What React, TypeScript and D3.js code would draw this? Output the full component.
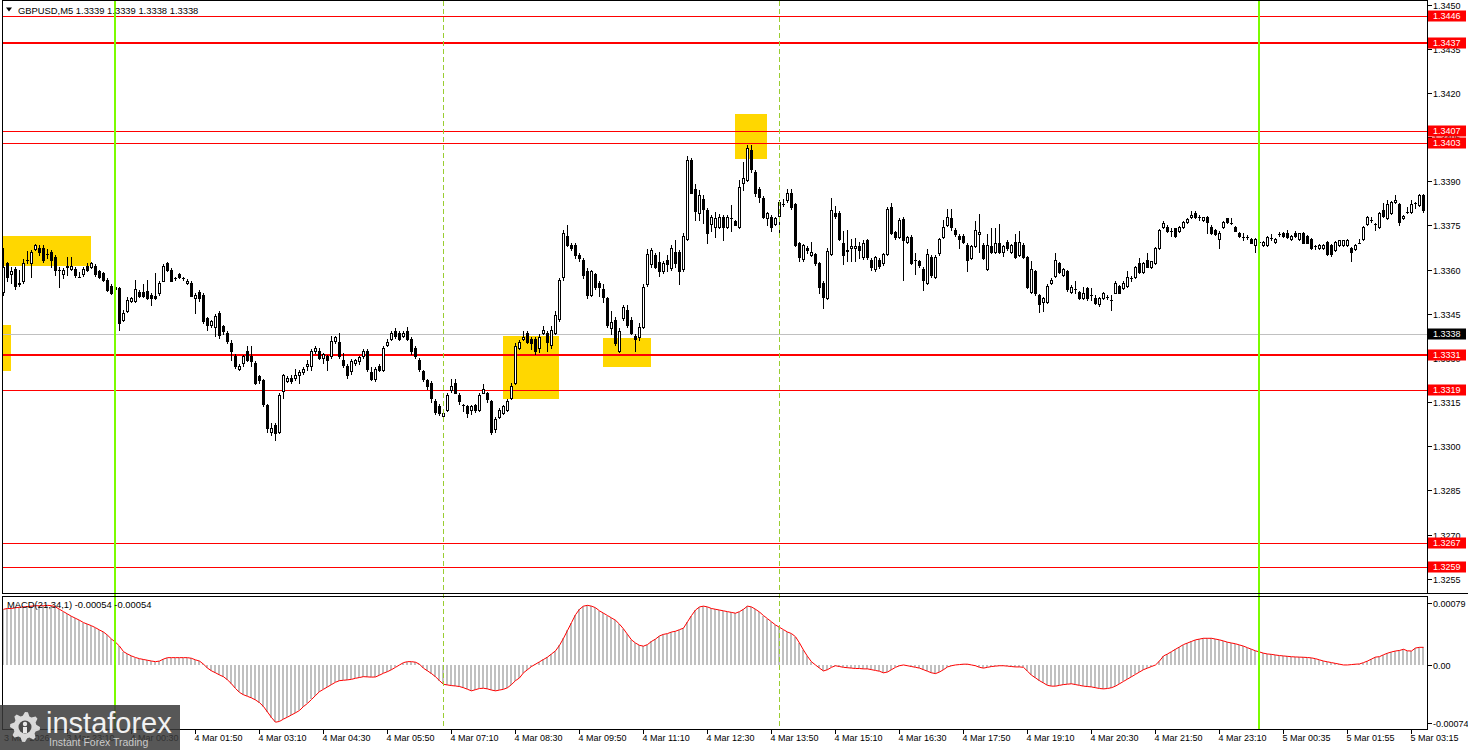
import React from 'react';
import * as d3 from 'd3';

// Prices are stored as pips above BASE (1.3300).
const BASE = 1.33;

const openPips = [
  52.5,62.2,58.4,60.2,55.3,56.3,63.2,62.2,67.1,67.3,
  67.3,65.3,66.1,64.4,59.9,58.5,61.0,60.1,60.1,57.6,
  58.4,61.3,61.0,61.3,59.6,58.8,56.5,54.5,53.3,53.7,
  42.9,46.1,49.4,49.4,52.5,52.5,52.8,51.4,51.2,52.2,
  56.3,62.2,59.9,57.1,58.5,57.1,55.4,55.6,50.3,52.5,
  51.4,43.4,41.1,40.4,45.2,40.7,38.4,35.2,30.7,26.3,
  28.2,32.2,30.7,28.2,23.7,22.5,14.0,5.0,7.3,5.0,
  18.6,22.3,23.1,23.1,24.1,25.1,27.1,27.1,32.2,32.2,
  30.1,30.5,30.5,35.6,35.3,29.3,27.4,25.4,28.2,28.8,
  30.5,32.4,25.1,22.8,27.3,26.0,34.4,36.3,39.3,38.4,
  37.3,39.3,36.4,33.3,29.3,25.4,22.5,21.4,15.2,13.8,
  10.3,12.3,19.1,21.4,17.4,14.0,13.5,12.3,14.0,12.3,
  18.2,18.2,15.4,5.8,10.1,11.4,12.3,16.3,21.4,33.3,
  36.4,38.4,36.4,36.4,33.3,38.4,38.4,34.4,38.4,43.1,
  57.6,71.5,68.4,68.4,65.0,63.3,59.6,51.4,58.4,55.6,
  53.3,50.3,40.1,42.9,32.5,43.5,46.3,42.9,37.5,37.2,
  40.6,55.2,62.0,65.0,62.5,59.4,63.3,60.5,66.1,66.0,
  60.1,70.3,97.3,87.4,79.2,84.0,80.2,75.5,74.4,74.4,
  78.0,74.6,77.5,76.5,74.4,89.3,90.4,100.7,93.3,87.4,
  84.2,77.5,78.0,75.5,78.2,82.3,83.5,86.2,82.3,69.2,
  63.5,67.3,65.0,65.2,62.2,55.4,50.3,65.2,79.4,79.4,
  69.2,66.2,67.3,67.5,68.1,64.2,70.1,63.3,60.1,63.3,
  62.2,65.2,81.4,72.8,71.2,77.2,69.5,71.2,63.2,62.8,
  60.1,55.4,64.4,57.6,65.6,71.2,75.2,77.5,73.5,71.5,
  71.5,68.4,63.9,68.1,72.2,68.4,60.1,68.0,66.1,69.2,
  66.0,69.5,66.1,69.5,65.0,68.4,64.2,52.5,59.6,51.4,
  49.1,49.1,55.4,57.9,62.2,58.2,59.6,52.5,53.5,52.5,
  50.3,53.7,51.4,50.3,48.2,50.3,50.6,49.7,52.2,54.5,
  53.7,54.5,57.0,57.4,62.4,59.3,63.3,61.0,62.2,67.3,
  74.6,74.6,73.0,74.0,73.2,74.6,76.3,77.8,79.4,77.8,
  76.9,77.8,74.6,73.5,70.3,74.6,77.4,76.0,74.4,72.6,
  71.0,71.0,70.3,68.4,69.5,68.4,68.4,70.6,69.5,72.1,
  72.6,72.6,70.3,72.6,70.3,72.6,71.4,70.3,68.0,67.3,
  67.3,69.5,68.4,66.7,68.4,68.4,68.4,67.3,67.0,69.2,
  70.3,75.5,76.7,75.5,74.6,80.2,77.4,79.1,83.1,82.3,
  77.4,79.7,79.7,82.5,82.0,85.4,
];

const highPips = [
  67.3,62.5,61.0,61.0,59.9,63.5,66.4,66.5,68.6,68.4,
  68.4,67.0,66.5,65.0,61.0,60.5,64.2,64.2,61.0,59.3,
  61.0,62.2,62.5,62.0,60.0,59.3,57.0,55.0,54.5,54.2,
  46.3,50.6,50.8,56.5,53.0,55.0,56.5,52.0,58.8,56.0,
  62.0,62.5,60.5,57.6,59.0,57.6,56.8,56.0,52.0,53.0,
  52.0,44.0,43.0,45.0,46.0,41.2,39.0,36.0,31.2,28.0,
  31.0,33.9,34.0,28.8,24.2,23.0,14.5,8.0,7.8,18.0,
  24.5,23.7,24.2,26.4,25.8,26.8,29.3,33.0,34.1,33.3,
  31.8,31.0,37.3,37.5,38.4,31.6,27.8,29.5,29.8,30.8,
  33.0,33.0,27.0,27.0,28.0,34.0,36.5,39.0,40.0,39.0,
  39.0,40.5,37.0,34.0,30.0,26.0,23.0,22.0,16.0,14.5,
  12.0,18.0,23.0,23.0,18.0,14.5,14.0,14.0,14.5,18.0,
  21.0,18.5,15.8,10.0,13.0,14.0,16.0,21.4,35.0,36.0,
  39.0,39.0,37.0,37.0,38.0,41.0,39.0,41.0,46.0,57.0,
  73.5,75.0,69.0,69.0,65.5,64.0,60.5,60.0,59.0,56.0,
  55.0,50.8,46.0,44.0,40.0,48.0,48.0,44.0,38.0,42.0,
  55.0,67.0,67.3,65.8,66.0,62.8,65.0,68.4,70.0,66.5,
  72.5,98.5,97.8,89.0,87.0,85.2,81.0,78.5,79.5,79.0,
  78.5,78.5,82.0,77.0,90.6,96.5,102.4,102.5,94.0,88.0,
  85.0,79.5,78.5,78.0,83.5,84.0,87.3,87.5,82.8,69.5,
  68.8,68.0,69.5,65.8,62.6,56.0,67.5,84.4,81.5,79.8,
  73.0,73.5,70.5,70.8,69.5,70.0,70.5,63.8,64.5,64.0,
  65.5,81.2,82.8,73.2,77.5,77.8,71.5,71.6,65.5,63.2,
  61.0,67.0,65.0,65.0,70.8,77.0,80.5,80.5,74.0,72.0,
  72.0,69.0,68.5,76.5,79.0,69.0,72.0,74.0,74.0,75.5,
  68.5,70.0,68.8,72.0,73.0,69.0,64.6,63.0,60.0,51.8,
  50.6,55.0,57.0,65.5,62.6,60.5,60.0,54.8,56.2,52.8,
  54.0,54.2,53.7,51.4,50.6,52.5,51.4,51.4,56.0,54.8,
  56.0,59.5,58.0,61.3,64.0,62.5,65.5,63.0,67.6,73.8,
  76.5,75.0,74.0,74.3,74.8,76.5,77.4,80.0,80.0,78.6,
  78.0,78.1,75.0,73.8,73.0,76.6,77.7,77.4,74.7,72.9,
  72.3,71.8,70.6,70.6,70.2,69.8,71.5,72.0,70.6,72.9,
  72.9,73.3,71.7,73.0,72.6,72.9,71.7,70.6,68.4,68.7,
  68.7,69.8,68.7,69.8,70.2,70.2,70.4,67.6,68.7,70.5,
  74.9,78.1,78.0,75.8,79.7,82.5,83.5,83.4,85.2,82.6,
  78.5,81.4,83.5,83.0,85.7,85.7,
];

const lowPips = [
  51.5,56.0,55.4,53.3,54.3,55.5,62.2,57.4,66.5,65.0,
  62.7,63.9,61.0,58.2,54.2,57.1,58.2,60.0,57.6,57.4,
  58.0,59.5,60.5,58.0,57.0,56.0,52.7,51.8,53.0,39.5,
  42.5,45.5,49.0,49.0,50.8,50.8,50.0,48.0,50.0,51.4,
  56.0,59.5,56.0,56.5,57.0,56.5,55.0,50.9,45.2,49.5,
  41.8,39.5,40.5,37.3,36.8,38.0,35.0,29.3,26.5,25.8,
  27.1,28.8,27.1,21.0,21.4,13.8,5.0,3.9,2.0,4.5,
  16.3,21.8,21.4,22.5,21.4,24.5,25.9,25.9,31.8,29.5,
  28.2,25.9,30.0,35.0,30.0,27.0,23.1,24.5,27.6,28.0,
  30.0,25.5,22.5,22.0,25.5,25.5,34.0,36.0,36.8,36.0,
  37.0,36.0,31.5,30.0,25.5,22.0,19.5,15.0,11.0,10.5,
  9.5,12.0,18.5,18.0,14.5,12.0,10.0,11.0,11.5,12.0,
  18.0,15.0,4.0,5.0,9.5,11.0,12.0,16.0,21.0,33.0,
  36.0,35.0,33.0,31.5,32.0,38.0,32.5,33.5,38.0,42.5,
  56.5,68.0,66.5,64.0,63.0,57.0,50.5,51.0,53.5,51.0,
  49.0,40.5,38.0,34.5,32.0,43.0,40.5,38.0,32.4,36.0,
  40.0,54.5,61.0,60.5,58.0,59.0,59.5,60.0,61.0,55.0,
  59.5,69.9,86.0,77.0,77.0,76.0,69.0,73.0,71.0,74.0,
  70.0,74.0,73.0,75.0,74.0,87.0,90.0,93.0,85.0,83.0,
  77.5,75.0,73.0,75.0,72.0,81.5,83.0,80.5,68.0,63.0,
  63.0,65.5,64.5,61.5,52.0,47.1,50.0,65.0,77.5,70.0,
  62.0,63.0,63.0,63.0,64.0,63.5,63.5,60.0,59.5,60.5,
  61.5,64.8,72.0,70.5,70.8,56.5,69.0,62.0,58.5,61.0,
  53.1,55.0,57.5,57.0,65.0,70.8,74.8,73.5,71.5,67.3,
  69.0,59.6,63.5,67.8,66.0,63.5,59.8,65.5,65.8,65.8,
  64.5,66.8,65.5,64.0,64.5,63.8,53.8,52.0,51.5,45.5,
  45.8,48.8,55.0,57.5,58.8,57.8,52.8,52.0,52.0,50.0,
  50.0,49.8,49.8,48.2,47.8,50.0,50.0,46.3,52.0,52.0,
  53.4,54.2,56.0,57.0,59.0,59.0,60.8,60.5,61.8,67.0,
  74.2,72.8,71.5,71.2,72.8,74.2,76.0,77.5,77.5,76.9,
  76.5,72.5,72.0,71.8,67.3,74.3,76.0,75.5,73.0,71.2,
  70.1,70.5,69.0,66.0,68.8,68.0,68.0,70.2,69.2,71.5,
  71.0,70.8,70.0,71.0,70.0,68.9,68.9,67.0,67.0,67.0,
  67.0,65.0,64.5,66.4,68.0,68.0,68.0,63.0,66.5,68.9,
  70.0,75.2,76.3,73.4,74.3,77.9,77.1,78.8,82.8,75.0,
  77.1,79.3,79.4,81.0,81.7,79.5,
];

const closePips = [
  61.0,57.4,59.6,54.6,55.0,62.2,63.4,66.1,68.3,65.9,
  63.3,65.2,63.1,59.9,59.8,59.9,61.1,61.3,58.2,57.6,
  60.1,59.9,62.2,58.4,57.4,56.5,53.1,52.2,54.2,42.0,
  45.2,49.7,50.3,53.3,51.2,51.2,50.3,50.2,50.2,55.4,
  61.3,59.9,56.3,57.1,57.6,57.0,56.3,51.2,51.4,50.3,
  42.4,41.2,42.4,44.3,37.8,39.0,35.6,32.2,27.1,27.4,
  30.5,29.3,28.8,21.4,22.5,14.3,6.1,6.1,4.4,17.4,
  24.1,23.1,22.3,24.2,25.3,26.3,28.0,32.4,33.4,30.1,
  31.3,29.3,35.6,37.0,30.5,27.6,24.2,29.1,29.3,30.2,
  32.2,26.2,22.8,26.2,26.0,33.3,35.5,38.4,37.3,36.4,
  38.4,36.4,32.2,30.5,26.2,22.8,20.3,16.3,11.8,11.4,
  11.4,17.4,20.3,18.2,15.2,14.1,11.4,13.5,12.3,17.4,
  19.4,16.0,5.0,9.2,12.3,13.5,15.2,20.3,34.1,35.5,
  37.2,35.5,35.0,32.2,37.2,39.5,35.5,39.5,44.6,56.5,
  72.4,68.4,67.3,65.0,63.9,58.2,51.4,59.6,54.2,54.2,
  50.8,41.2,42.3,35.2,39.0,47.4,41.2,38.4,36.4,40.6,
  54.2,65.3,66.5,61.0,59.6,62.2,62.0,67.3,62.2,59.6,
  71.5,97.3,86.2,80.0,85.4,80.5,72.6,78.0,77.5,78.0,
  74.6,78.0,77.5,75.2,88.2,91.2,101.2,94.1,86.2,84.8,
  78.0,79.1,74.4,77.5,83.1,82.3,86.2,81.2,68.4,64.2,
  68.4,66.5,66.1,62.2,54.2,50.8,66.4,80.3,78.3,70.3,
  65.0,66.5,68.1,68.1,66.8,69.2,64.2,61.0,64.2,61.2,
  65.2,80.5,72.4,71.2,76.9,70.1,71.2,62.2,63.2,61.5,
  56.5,65.2,58.2,64.4,70.3,74.4,78.0,74.4,72.1,70.3,
  69.5,63.1,68.1,73.5,72.7,63.9,68.4,66.1,69.2,66.1,
  68.1,67.3,68.4,64.4,69.5,64.2,54.2,60.1,52.2,48.4,
  50.3,54.5,56.5,63.1,59.3,60.1,53.3,54.2,53.5,50.5,
  52.2,50.3,51.4,48.8,50.3,52.2,50.6,49.7,55.6,52.2,
  55.6,57.6,57.0,61.0,59.3,62.2,61.0,62.8,67.3,73.5,
  75.8,73.2,73.0,71.5,74.6,76.3,77.1,78.6,77.8,77.8,
  77.8,76.3,72.3,72.1,72.6,76.3,76.3,76.0,73.2,71.4,
  71.0,71.0,69.2,70.3,69.5,69.5,71.2,70.6,70.3,72.1,
  71.4,71.2,71.4,71.4,72.3,69.2,69.2,67.3,68.0,68.4,
  68.4,65.3,65.3,69.5,69.9,69.9,70.1,66.1,68.4,69.2,
  74.6,77.8,76.7,75.5,79.4,78.2,82.3,83.1,83.7,76.3,
  78.2,79.7,82.3,82.5,85.4,80.3,
];

// MACD(21,34,1) main values, in units of 0.00001
const macdValues = [
  71,72,72,73,73.5,74,74.5,75,75.5,75.5,
  75.5,76,75.6,74,71,68,65,62,59.5,57,
  54,52,50,47.5,44.6,42,38,33,29,24,
  17,14,11.5,9.5,8,7,6,5,4.2,5,
  7.5,9.3,9.3,9.3,9.3,9.3,9.3,8.5,6.5,5,
  1,-4,-7.5,-10,-12.7,-15,-19,-24,-30,-35,
  -38,-40,-42,-44.6,-48,-53,-60,-67,-73,-72,
  -69,-66.5,-63.7,-61,-58,-53,-49,-44,-39,-34,
  -31,-28,-25,-22,-20,-19.5,-19,-18.3,-17,-16,
  -14.9,-15.2,-15.5,-15.3,-13,-10.5,-8.5,-6,-3,0,
  3,4.2,4.2,3.5,1,-4.2,-7.5,-11,-15,-20,
  -24.6,-25.5,-26.3,-26.8,-27.5,-29,-31,-33,-31.5,-30,
  -29.7,-30.5,-32,-33,-32,-31,-29,-25,-20,-16.5,
  -10,-6,-2,1,4,7,10,14,18,25,
  34,44,54,64,71,75,76,75,73,69,
  66,63,60,57,52,46,39,32,28,25,
  24,26,30,33,37,39,40,42,43,45,
  47,55,63,70,74,75,74,72,71,70,
  69,68,67,66,68,71,75,74,71,67.5,
  63,59,55,51,48,45,42,40,36,28,
  19,11,4,0,-4,-7.6,-6,-3,-1,-2,
  -3,-3.5,-4,-4.5,-4.5,-5,-5,-6,-7,-8,
  -10,-9,-6,-3,-1,0,-1,-2,-3,-4,
  -6,-8,-10,-11,-9,-6,-2.5,-1,0,0.5,
  1,1,0,-1,-3,-4,-3,-2,-1.5,-1,
  -1,-1.5,-2,-2.5,-2.5,-3,-8,-13,-16.5,-20,
  -23,-26,-27,-27,-26,-25,-24.5,-24,-25,-26,
  -27,-27.5,-28,-29,-30,-30.5,-30,-29,-27,-24,
  -21,-18,-15,-12,-9,-6,-4,-2,0,5,
  11.5,14,17,20,23,26,28,30,32,33,
  34,34,34,33,32,30.6,29,28,27,25.5,
  24,22,20,18,16.6,15,14,13.5,12.7,12,
  11.5,11,10.5,10.2,10,9.8,9.5,9,8,6.5,
  5,4,3,2,1,0,0,0.5,1,1.3,
  3,5,7.5,10,10.6,13,15,16.6,17.8,18.5,
  20,18,17.8,21.6,22.5,22.5,
];

const timeLabels = [
  '3 Mar 2026','3 Mar 23:10','4 Mar 00:30','4 Mar 01:50','4 Mar 03:10','4 Mar 04:30',
  '4 Mar 05:50','4 Mar 07:10','4 Mar 08:30','4 Mar 09:50','4 Mar 11:10','4 Mar 12:30',
  '4 Mar 13:50','4 Mar 15:10','4 Mar 16:30','4 Mar 17:50','4 Mar 19:10','4 Mar 20:30',
  '4 Mar 21:50','4 Mar 23:10','5 Mar 00:35','5 Mar 01:55','5 Mar 03:15',
];
const barsPerTimeLabel = 16;

const priceTicks = [1.3450,1.3435,1.3420,1.3405,1.3390,1.3375,1.3360,1.3345,1.3330,1.3315,1.3300,1.3285,1.3270,1.3255];
const levelPrices = [1.3446,1.3437,1.3407,1.3403,1.3331,1.3319,1.3267,1.3259];
const boldLevelPrices = [1.3437,1.3331];
const currentPrice = 1.3338;

const boxStartBar = [0,0,125,150,183];
const boxEndBar = [22,2,139,162,191];
const boxTopPrice = [1.33714,1.33412,1.33375,1.33368,1.34129];
const boxBottomPrice = [1.33613,1.33256,1.33161,1.33270,1.33976];

const greenLineBars = [28,314];
const dashedLineBars = [110,194];
const macdTicks = [0.00079,0,-0.00074];
const macdTickLabels = ['0.00079','0.00','-0.00074'];

const header = 'GBPUSD,M5  1.3339 1.3339 1.3338 1.3338';
const macdHeader = 'MACD(21,34,1) -0.00054 -0.00054';

const W = 1468, H = 750;
const FONT = "'Liberation Sans', Arial, sans-serif";

export default function App() {
  const n = closePips.length;
  const x = d3.scaleLinear().domain([0, n - 1]).range([3.5, 3.5 + 4 * (n - 1)]);
  const y = d3.scaleLinear().domain([1.3255, 1.3450]).range([578.7, 4.7]);
  const ym = d3.scaleLinear().domain([-0.00074, 0.00079]).range([723, 603]);
  const P = (v: number) => BASE + v / 10000;

  const left = 2.5, right = 1427.5, pTop = 0.5, pBot = 593.5, mTop = 596.5, mBot = 729.5;

  const macdLine = d3.line<number>().x((_, i) => x(i)).y(d => ym(d * 1e-5))(macdValues) || '';

  const gear = (() => {
    const cx = 25, cy = 727, r1 = 15, r2 = 11.5, teeth = 8;
    const pts: [number, number][] = [];
    for (let k = 0; k < teeth * 4; k++) {
      const a = (k / (teeth * 4)) * Math.PI * 2;
      const r = (k % 4 === 0 || k % 4 === 1) ? r1 : r2;
      pts.push([cx + r * Math.cos(a), cy + r * Math.sin(a)]);
    }
    return 'M' + pts.map(p => p.join(',')).join('L') + 'Z';
  })();

  return (
    <svg width={W} height={H} style={{ position: 'absolute', left: 0, top: 0, background: '#fff' }}
      fontFamily={FONT}>
      <defs>
        <clipPath id="pclip"><rect x={left} y={pTop} width={right - left} height={pBot - pTop} /></clipPath>
        <clipPath id="mclip"><rect x={left} y={mTop} width={right - left} height={mBot - mTop} /></clipPath>
      </defs>
      <rect x={0} y={0} width={W} height={H} fill="#fff" />

      {/* price panel */}
      <g clipPath="url(#pclip)" shapeRendering="crispEdges">
        {boxStartBar.map((s, k) => (
          <rect key={'bx' + k} x={x(s) - 0.5} y={y(boxTopPrice[k])} width={x(boxEndBar[k]) - x(s)}
            height={y(boxBottomPrice[k]) - y(boxTopPrice[k])} fill="#FFD700" />
        ))}
        <line x1={left} x2={right} y1={Math.round(y(currentPrice)) + 0.5} y2={Math.round(y(currentPrice)) + 0.5} stroke="#c0c0c0" />
        {levelPrices.map((p, k) => {
          const bold = boldLevelPrices.includes(p);
          const yy = Math.round(y(p)) + (bold ? 0 : 0.5);
          return <line key={'lv' + k} x1={left} x2={right} y1={yy} y2={yy} stroke="#ff0000" strokeWidth={bold ? 2 : 1} />;
        })}
        {closePips.map((c, i) => {
          const o = openPips[i];
          const cx = x(i);
          const yo = Math.round(y(P(o))), yc = Math.round(y(P(c)));
          const yh = Math.round(y(P(Math.max(highPips[i], o, c))));
          const yl = Math.round(y(P(Math.min(lowPips[i], o, c))));
          const top = Math.min(yo, yc), bot = Math.max(yo, yc);
          const bull = c >= o;
          return (
            <g key={'c' + i}>
              <line x1={cx} x2={cx} y1={yh} y2={yl + 1} stroke="#000" />
              {bot - top < 1 ? (
                <line x1={cx - 1.5} x2={cx + 1.5} y1={top + 0.5} y2={top + 0.5} stroke="#000" />
              ) : (
                <rect x={cx - 1} y={top + 0.5} width={2} height={bot - top} fill={bull ? '#fff' : '#000'} stroke="#000" />
              )}
            </g>
          );
        })}
      </g>

      {/* MACD panel */}
      <g clipPath="url(#mclip)">
        <g shapeRendering="crispEdges">
          {macdValues.map((v, i) => {
            const y0 = ym(0), y1 = ym(v * 1e-5);
            return <rect key={'m' + i} x={x(i) - 1.5} y={Math.min(y0, y1)} width={2} height={Math.abs(y1 - y0)} fill="#c0c0c0" />;
          })}
        </g>
        <path d={macdLine} fill="none" stroke="#ff0000" strokeWidth={1} />
      </g>

      {/* vertical markers */}
      <g shapeRendering="crispEdges">
        {dashedLineBars.map((b, k) => (
          <line key={'dl' + k} x1={x(b) - 0.5} x2={x(b) - 0.5} y1={pTop} y2={mBot} stroke="#9acd32" strokeDasharray="5,3" />
        ))}
        {greenLineBars.map((b, k) => (
          <line key={'gl' + k} x1={x(b) - 0.5} x2={x(b) - 0.5} y1={pTop} y2={mBot} stroke="#7cfc00" strokeWidth={2} />
        ))}
      </g>

      {/* frames */}
      <g shapeRendering="crispEdges" fill="none" stroke="#000">
        <rect x={left} y={pTop} width={right - left} height={pBot - pTop} />
        <rect x={left} y={mTop} width={right - left} height={mBot - mTop} />
        <line x1={right} x2={W} y1={pBot} y2={pBot} />
      </g>

      {/* price axis */}
      <g fontSize={9} fill="#000">
        {priceTicks.map((p, k) => {
          const yy = Math.round(y(p)) + 0.5;
          return (
            <g key={'pt' + k}>
              <line x1={right} x2={right + 4} y1={yy} y2={yy} stroke="#000" shapeRendering="crispEdges" />
              <text x={1433} y={yy + 3.3}>{p.toFixed(4)}</text>
            </g>
          );
        })}
        {levelPrices.map((p, k) => {
          const yy = Math.round(y(p));
          return (
            <g key={'pl' + k}>
              <rect x={1428} y={yy - 5.5} width={38} height={11} fill="#ff0000" />
              <text x={1433} y={yy + 3.3} fill="#fff">{p.toFixed(4)}</text>
            </g>
          );
        })}
        <rect x={1428} y={Math.round(y(currentPrice)) - 5.5} width={38} height={11} fill="#000" />
        <text x={1433} y={Math.round(y(currentPrice)) + 3.3} fill="#fff">{currentPrice.toFixed(4)}</text>
      </g>

      {/* MACD axis */}
      <g fontSize={9} fill="#000">
        {macdTicks.map((v, k) => {
          const yy = Math.round(ym(v)) + 0.5;
          return (
            <g key={'mt' + k}>
              <line x1={right} x2={right + 4} y1={yy} y2={yy} stroke="#000" shapeRendering="crispEdges" />
              <text x={1433} y={yy + 3.3}>{macdTickLabels[k]}</text>
            </g>
          );
        })}
      </g>

      {/* time axis */}
      <g fontSize={9} fill="#000">
        {timeLabels.map((t, k) => {
          const xx = x(k * barsPerTimeLabel);
          return (
            <g key={'tl' + k}>
              {k > 0 && <line x1={xx} x2={xx} y1={mBot} y2={mBot + 4} stroke="#000" shapeRendering="crispEdges" />}
              <text x={k === 0 ? 4 : xx - 1} y={741}>{t}</text>
            </g>
          );
        })}
      </g>

      {/* headers */}
      <path d="M6,7.5 L12,7.5 L9,11.5 Z" fill="#000" />
      <text x={18} y={14} fontSize={9.4} fill="#000">{header}</text>
      <text x={7} y={608} fontSize={9.4} fill="#000">{macdHeader}</text>

      {/* watermark logo */}
      <g>
        <rect x={0} y={705} width={180} height={45} fill="#3a3a3a" opacity={0.85} />
        <path d={gear} fill="#e8e8e8" opacity={0.9} />
        <circle cx={25} cy={727} r={6.5} fill="#4a4a4a" />
        <circle cx={25} cy={724} r={2.2} fill="#e8e8e8" />
        <rect x={23} y={727} width={4} height={6} fill="#e8e8e8" />
        <text x={46} y={733} fontSize={29} fill="#fff" opacity={0.92} fontFamily="'Liberation Sans', Arial, sans-serif">instaforex</text>
        <text x={49} y={746} fontSize={10.5} fill="#d8d8d8" opacity={0.9}>Instant Forex Trading</text>
      </g>
    </svg>
  );
}
